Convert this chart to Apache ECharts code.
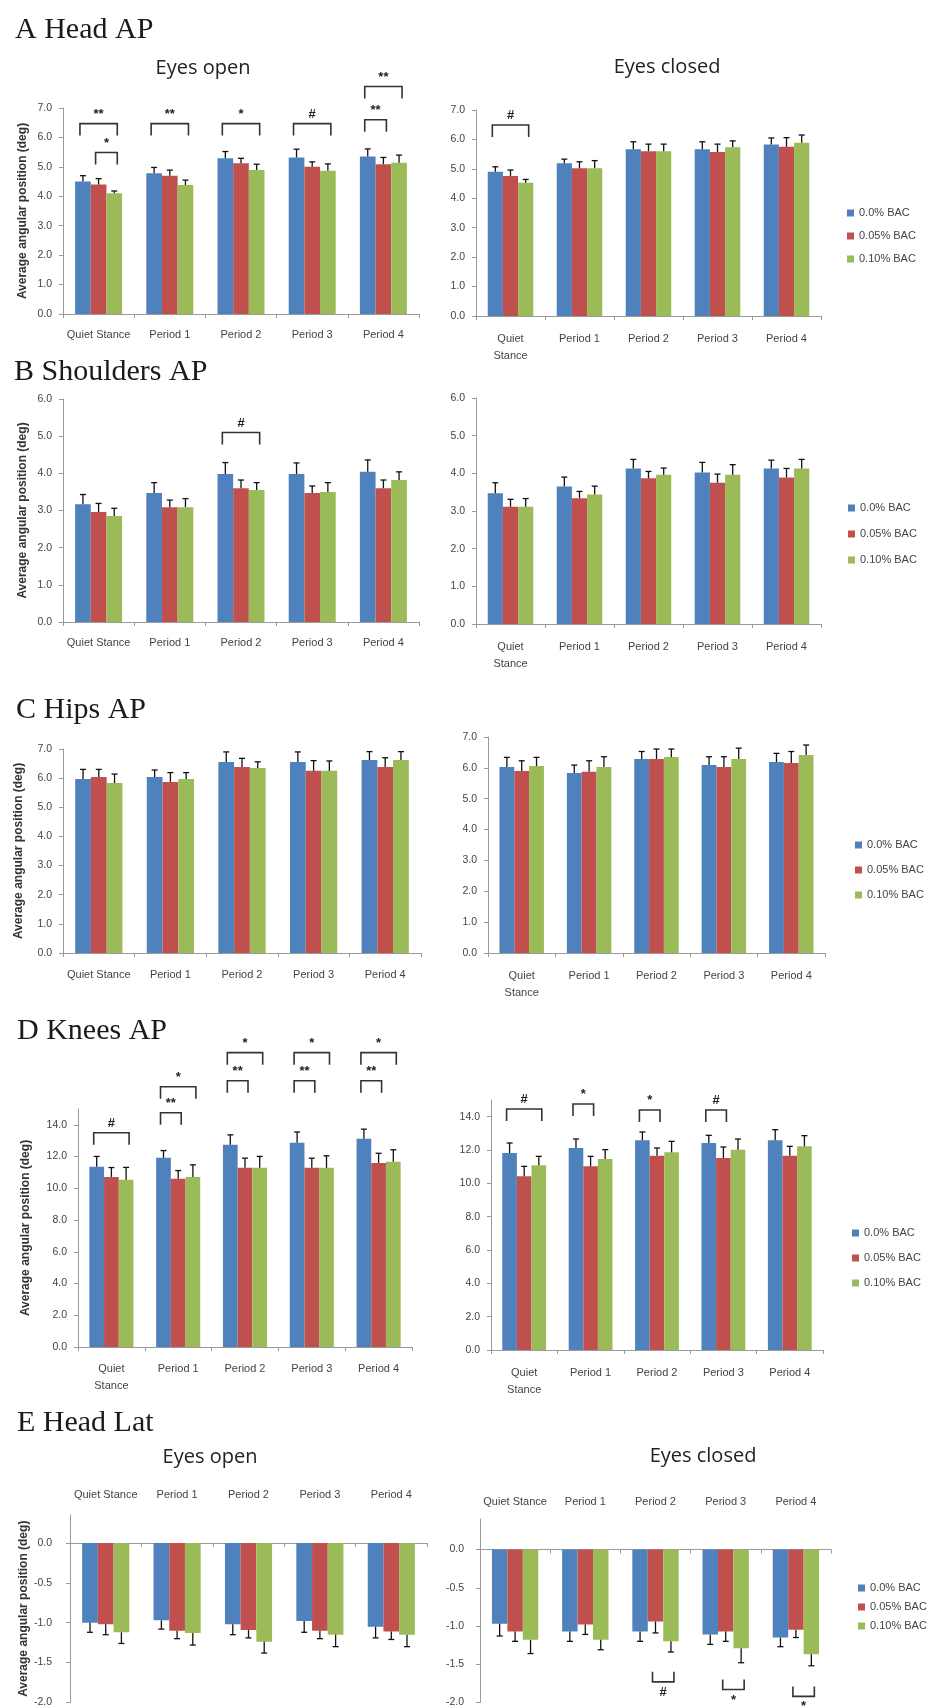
<!DOCTYPE html>
<html><head><meta charset="utf-8">
<script src="https://cdn.jsdelivr.net/npm/echarts@6/dist/echarts.min.js"></script>
<style>html,body{margin:0;padding:0;background:#fff}#c{width:928px;height:1708px}</style>
</head><body><div id="c"></div>
<script>
// ---------- DATA ----------
const seriesNames = ['0.0% BAC', '0.05% BAC', '0.10% BAC'];
const catsOneLine = ['Quiet Stance', 'Period 1', 'Period 2', 'Period 3', 'Period 4'];
const catsTwoLine = ['Quiet\nStance', 'Period 1', 'Period 2', 'Period 3', 'Period 4'];
const yAxisName = 'Average angular position (deg)';

// A Head AP (rows: 0.0%, 0.05%, 0.10% BAC; cols: categories)
const headAP_open_mean = [[4.50, 4.78, 5.29, 5.32, 5.35], [4.40, 4.70, 5.12, 5.00, 5.09], [4.10, 4.38, 4.89, 4.87, 5.14]];
const headAP_open_err  = [[0.20, 0.20, 0.23, 0.28, 0.26], [0.20, 0.19, 0.17, 0.17, 0.23], [0.08, 0.17, 0.20, 0.23, 0.26]];
const headAP_closed_mean = [[4.90, 5.19, 5.67, 5.67, 5.83], [4.76, 5.02, 5.60, 5.57, 5.75], [4.53, 5.02, 5.60, 5.73, 5.89]];
const headAP_closed_err  = [[0.17, 0.14, 0.25, 0.25, 0.22], [0.20, 0.22, 0.24, 0.27, 0.31], [0.11, 0.26, 0.24, 0.22, 0.26]];
// B Shoulders AP
const shouldersAP_open_mean = [[3.17, 3.47, 3.98, 3.98, 4.04], [2.96, 3.09, 3.60, 3.47, 3.60], [2.85, 3.09, 3.55, 3.50, 3.82]];
const shouldersAP_open_err  = [[0.26, 0.28, 0.31, 0.30, 0.32], [0.23, 0.19, 0.22, 0.19, 0.22], [0.21, 0.23, 0.20, 0.25, 0.22]];
const shouldersAP_closed_mean = [[3.47, 3.65, 4.13, 4.02, 4.13], [3.11, 3.34, 3.87, 3.75, 3.89], [3.11, 3.44, 3.96, 3.96, 4.13]];
const shouldersAP_closed_err  = [[0.28, 0.25, 0.24, 0.27, 0.22], [0.20, 0.18, 0.18, 0.23, 0.24], [0.22, 0.22, 0.18, 0.27, 0.24]];
// C Hips AP
const hipsAP_open_mean = [[5.97, 6.04, 6.55, 6.55, 6.62], [6.04, 5.87, 6.38, 6.25, 6.38], [5.83, 5.97, 6.35, 6.25, 6.62]];
const hipsAP_open_err  = [[0.33, 0.24, 0.35, 0.35, 0.29], [0.26, 0.32, 0.30, 0.35, 0.32], [0.31, 0.22, 0.21, 0.34, 0.29]];
const hipsAP_closed_mean = [[6.03, 5.83, 6.29, 6.09, 6.19], [5.90, 5.87, 6.29, 6.03, 6.16], [6.06, 6.03, 6.35, 6.29, 6.42]];
const hipsAP_closed_err  = [[0.31, 0.26, 0.24, 0.27, 0.28], [0.33, 0.36, 0.32, 0.33, 0.37], [0.28, 0.33, 0.26, 0.35, 0.32]];
// D Knees AP
const kneesAP_open_mean = [[11.36, 11.92, 12.74, 12.87, 13.12], [10.72, 10.60, 11.29, 11.29, 11.60], [10.54, 10.72, 11.29, 11.29, 11.67]];
const kneesAP_open_err  = [[0.65, 0.46, 0.63, 0.68, 0.61], [0.59, 0.52, 0.61, 0.61, 0.61], [0.78, 0.76, 0.72, 0.76, 0.76]];
const kneesAP_closed_mean = [[11.82, 12.12, 12.58, 12.42, 12.58], [10.42, 11.02, 11.66, 11.52, 11.66], [11.08, 11.46, 11.86, 12.02, 12.22]];
const kneesAP_closed_err  = [[0.60, 0.54, 0.50, 0.46, 0.64], [0.60, 0.60, 0.46, 0.66, 0.56], [0.54, 0.56, 0.66, 0.64, 0.64]];
// E Head Lat
const headLat_open_mean = [[-1.00, -0.97, -1.02, -0.98, -1.05], [-1.02, -1.10, -1.09, -1.10, -1.11], [-1.12, -1.13, -1.24, -1.15, -1.15]];
const headLat_open_err  = [[0.12, 0.11, 0.13, 0.14, 0.14], [0.13, 0.10, 0.10, 0.10, 0.10], [0.14, 0.15, 0.14, 0.15, 0.15]];
const headLat_closed_mean = [[-0.97, -1.07, -1.07, -1.11, -1.15], [-1.07, -0.98, -0.94, -1.07, -1.05], [-1.18, -1.18, -1.20, -1.29, -1.37]];
const headLat_closed_err  = [[0.16, 0.13, 0.13, 0.13, 0.12], [0.13, 0.13, 0.15, 0.13, 0.10], [0.18, 0.13, 0.14, 0.19, 0.15]];

// Significance brackets: [category, fromBar, toBar, level (axis units), label]
const headAP_open_sig = [[0, 0, 2, 6.47, '**'], [0, 1, 2, 5.49, '*'], [1, 0, 2, 6.47, '**'], [2, 0, 2, 6.47, '*'], [3, 0, 2, 6.47, '#'], [4, 0, 2, 7.73, '**'], [4, 0, 1, 6.60, '**']];
const headAP_closed_sig = [[0, 0, 2, 6.49, '#']];
const shouldersAP_open_sig = [[2, 0, 2, 5.10, '#']];
const kneesAP_open_sig = [[0, 0, 2, 13.5, '#'], [1, 0, 2, 16.4, '*'], [1, 0, 1, 14.76, '**'], [2, 0, 2, 18.55, '*'], [2, 0, 1, 16.78, '**'], [3, 0, 2, 18.55, '*'], [3, 0, 1, 16.78, '**'], [4, 0, 2, 18.55, '*'], [4, 0, 1, 16.78, '**']];
const kneesAP_closed_sig = [[0, 0, 2, 14.46, '#'], [1, 0, 1, 14.76, '*'], [2, 0, 1, 14.4, '*'], [3, 0, 1, 14.4, '#']];
const headLat_closed_sig = [[2, 1, 2, -1.73, '#'], [3, 1, 2, -1.83, '*'], [4, 1, 2, -1.92, '*']];

// ---------- LAYOUT / STYLE ----------
const FONT = '"Liberation Sans", Arial, sans-serif';
const colors = ['#4F81BD', '#C0504D', '#9BBB59'];
const CAT_GAP = 0.34;
const AX = '#9a9a9a';

const panels = [
  {grid: {left: 63, top: 108, width: 356, height: 206}, y: [0, 7, 1], cats: catsOneLine, mean: headAP_open_mean, err: headAP_open_err, br: headAP_open_sig, yName: 34, lm: 12},
  {grid: {left: 476, top: 110, width: 345, height: 206}, y: [0, 7, 1], cats: catsTwoLine, mean: headAP_closed_mean, err: headAP_closed_err, br: headAP_closed_sig, lm: 14},
  {grid: {left: 63, top: 399, width: 356, height: 223}, y: [0, 6, 1], cats: catsOneLine, mean: shouldersAP_open_mean, err: shouldersAP_open_err, br: shouldersAP_open_sig, yName: 34, lm: 12},
  {grid: {left: 476, top: 398, width: 345, height: 226}, y: [0, 6, 1], cats: catsTwoLine, mean: shouldersAP_closed_mean, err: shouldersAP_closed_err, br: [], lm: 14},
  {grid: {left: 63, top: 749, width: 358, height: 204}, y: [0, 7, 1], cats: catsOneLine, mean: hipsAP_open_mean, err: hipsAP_open_err, br: [], yName: 38, lm: 13},
  {grid: {left: 488, top: 737, width: 337, height: 216}, y: [0, 7, 1], cats: catsTwoLine, mean: hipsAP_closed_mean, err: hipsAP_closed_err, br: [], lm: 14},
  {grid: {left: 78, top: 1109, width: 334, height: 238}, y: [0, 15, 2], hideMax: true, cats: catsTwoLine, mean: kneesAP_open_mean, err: kneesAP_open_err, br: kneesAP_open_sig, yName: 46, lm: 13},
  {grid: {left: 491, top: 1100, width: 332, height: 250}, y: [0, 15, 2], hideMax: true, cats: catsTwoLine, mean: kneesAP_closed_mean, err: kneesAP_closed_err, br: kneesAP_closed_sig, lm: 14},
  {grid: {left: 70, top: 1515, width: 357, height: 188}, y: [-2, 0.35, 0.5], hideMax: true, ym: 18, cats: catsOneLine, mean: headLat_open_mean, err: headLat_open_err, br: [], yName: 40, top: 15},
  {grid: {left: 480, top: 1519, width: 351, height: 184}, y: [-2, 0.4, 0.5], hideMax: true, ym: 16, cats: catsOneLine, mean: headLat_closed_mean, err: headLat_closed_err, br: headLat_closed_sig, top: 12}
];

const legendPos = [[842, 202, 11], [843, 497, 14], [850, 834, 13], [847, 1222, 13], [853, 1577, 7]];

function barX(api, cat, val, k) {
  const p = api.coord([cat, val]);
  const band = api.size([1, 0])[0];
  const gw = band * (1 - CAT_GAP), bw = gw / 3;
  return [p[0] - gw / 2 + bw * (k + 0.5), p[1], bw];
}

function errRender(params, api) {
  const k = api.value(0), c = api.value(1), v = api.value(2), e = api.value(3);
  const a = barX(api, c, v, k);
  const end = api.coord([c, v + (v < 0 ? -e : e)])[1];
  const cap = 3;
  const st = {stroke: '#111', lineWidth: 1.3};
  return {type: 'group', children: [
    {type: 'line', shape: {x1: a[0], y1: a[1], x2: a[0], y2: end}, style: st},
    {type: 'line', shape: {x1: a[0] - cap, y1: end, x2: a[0] + cap, y2: end}, style: st}
  ]};
}

function makeBracketRender(list) {
  return function (params, api) {
    const b = list[params.dataIndex];
    const f = barX(api, b[0], b[3], b[1]);
    const t = barX(api, b[0], b[3], b[2]);
    const y = f[1];
    const down = b[3] >= 0; // above bars: legs down; below bars: legs up
    const leg = down ? 12 : -10;
    const x1 = f[0] - 3, x2 = t[0] + 3;
    return {type: 'group', children: [
      {type: 'polyline', shape: {points: [[x1, y + leg], [x1, y], [x2, y], [x2, y + leg]]},
        style: {stroke: '#333', lineWidth: 1.6, fill: null}},
      {type: 'text', style: {text: b[4], x: (x1 + x2) / 2, y: down ? y - 3 : y + 4,
        textAlign: 'center', textVerticalAlign: down ? 'bottom' : 'top',
        font: 'bold 13px ' + FONT, fill: '#222'}}
    ]};
  };
}

const grids = [], xAxes = [], yAxes = [], series = [];
panels.forEach((p, i) => {
  grids.push(Object.assign({containLabel: false}, p.grid));
  const xi = xAxes.length;
  xAxes.push({
    type: 'category', gridIndex: i, data: p.cats, position: 'bottom',
    axisLine: {show: true, onZero: true, lineStyle: {color: AX, width: 1}},
    axisTick: {show: true, length: 4, lineStyle: {color: AX}},
    axisLabel: {show: !p.top, interval: 0, fontSize: 11, color: '#444', margin: p.lm || 12, lineHeight: 17, fontFamily: FONT},
    splitLine: {show: false}
  });
  if (p.top) {
    xAxes.push({
      type: 'category', gridIndex: i, data: p.cats, position: 'top',
      axisLine: {show: false, onZero: false}, axisTick: {show: false},
      axisLabel: {interval: 0, fontSize: 11, color: '#444', margin: p.top, fontFamily: FONT},
      splitLine: {show: false}
    });
  }
  const ya = {
    type: 'value', gridIndex: i, min: p.y[0], max: p.y[1], interval: p.y[2],
    axisLine: {show: true, lineStyle: {color: AX, width: 1}},
    axisTick: {show: true, length: 4, lineStyle: {color: AX}},
    splitLine: {show: false},
    axisLabel: {fontSize: 10.5, color: '#444', margin: p.ym || 11, fontFamily: FONT, showMaxLabel: !p.hideMax,
      formatter: v => v.toFixed(1)}
  };
  if (p.yName) {
    Object.assign(ya, {name: yAxisName, nameLocation: 'middle', nameGap: p.yName, nameRotate: 90,
      nameTextStyle: {fontSize: 12, fontWeight: 'bold', color: '#333', fontFamily: FONT}});
  }
  yAxes.push(ya);
  for (let k = 0; k < 3; k++) {
    series.push({
      type: 'bar', name: seriesNames[k], xAxisIndex: xi, yAxisIndex: i, data: p.mean[k],
      itemStyle: {color: colors[k]}, barGap: '0%', barCategoryGap: (CAT_GAP * 100) + '%', silent: true
    });
  }
  const errData = [];
  for (let k = 0; k < 3; k++) for (let c = 0; c < 5; c++) errData.push([k, c, p.mean[k][c], p.err[k][c]]);
  series.push({type: 'custom', xAxisIndex: xi, yAxisIndex: i, clip: false, z: 5, silent: true,
    renderItem: errRender, encode: {x: 1, y: 2}, data: errData});
  if (p.br.length) {
    series.push({type: 'custom', xAxisIndex: xi, yAxisIndex: i, clip: false, z: 6, silent: true,
      renderItem: makeBracketRender(p.br), encode: {x: 0, y: 1}, data: p.br.map(b => [b[0], b[3]])});
  }
});

const titleFont = '30px "Liberation Serif", "Times New Roman", serif';
const subFont = '20px "Open Sans", "Noto Sans", sans-serif';
const graphics = [
  ['A Head AP', 15, 30], ['B Shoulders AP', 14, 372], ['C Hips AP', 16, 710], ['D Knees AP', 17, 1031], ['E Head Lat', 17, 1423]
].map(t => ({type: 'text', x: t[1], y: t[2], silent: true,
  style: {text: t[0], font: titleFont, fill: '#1a1a1a', textAlign: 'left', textVerticalAlign: 'middle'}}))
.concat([
  ['Eyes open', 203, 68], ['Eyes closed', 667, 67], ['Eyes open', 210, 1457], ['Eyes closed', 703, 1456]
].map(t => ({type: 'text', x: t[1], y: t[2], silent: true,
  style: {text: t[0], font: subFont, fill: '#222', textAlign: 'center', textVerticalAlign: 'middle'}})));

const option = {
  animation: false,
  backgroundColor: '#fff',
  grid: grids, xAxis: xAxes, yAxis: yAxes, series: series,
  legend: legendPos.map(l => ({
    data: seriesNames, orient: 'vertical', left: l[0], top: l[1], itemGap: l[2],
    itemWidth: 7, itemHeight: 7, icon: 'rect', itemTextGap: 2, selectedMode: false,
    textStyle: {fontSize: 11, color: '#444', lineHeight: 12, fontFamily: FONT}
  })),
  graphic: graphics
};
const chart = echarts.init(document.getElementById('c'));
chart.setOption(option);
</script>
</body></html>
